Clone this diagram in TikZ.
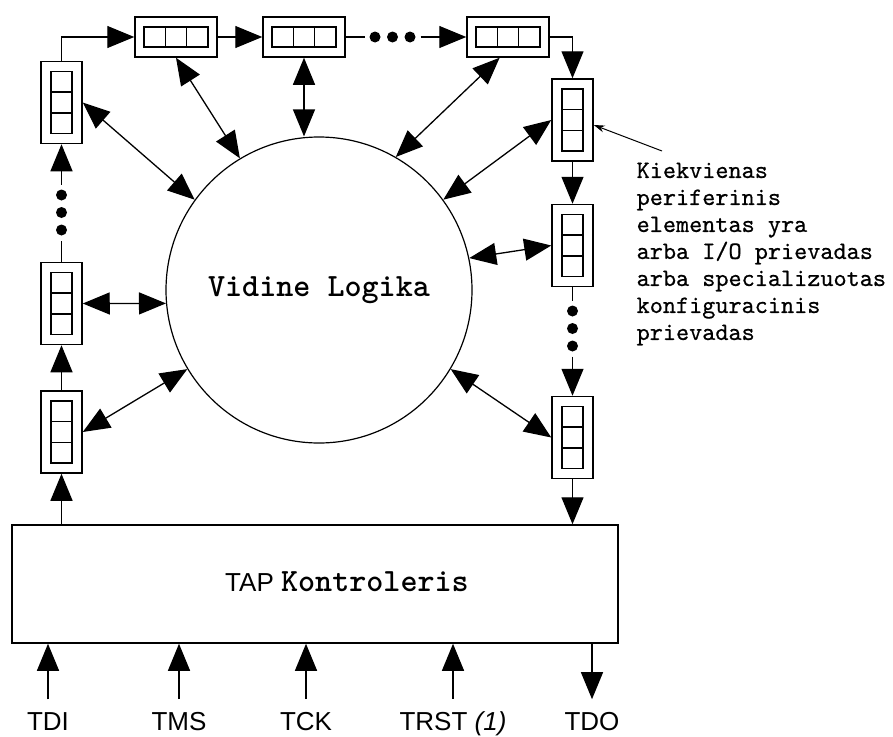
\documentclass[tikz,border=0pt]{standalone}
\usepackage{fontspec}
\setmainfont{Liberation Sans}
\newfontfamily\monobold{lmmonolt10-bold.otf}
\newfontfamily\mononote{lmmono10-regular.otf}[FakeBold=0.6]
\usetikzlibrary{arrows.meta}

\begin{document}
\begin{tikzpicture}[x=1pt,y=1pt,line width=1.3pt,
	onearrow/.style={-{Triangle[length=27pt,width=22pt]}},
	twoarrow/.style={{Triangle[length=27pt,width=22pt]}-{Triangle[length=27pt,width=22pt]}},
	hreg/.style={draw,rectangle,line width=1.5pt,minimum width=82pt,minimum height=40pt,inner sep=0pt},
	vreg/.style={hreg,minimum width=41pt,minimum height=82pt},
	hcell/.style={draw,rectangle,line width=1.5pt,minimum width=21.3pt,minimum height=20pt,inner sep=0pt},
	vcell/.style={hcell,minimum width=21pt,minimum height=20.7pt},
	bead/.style={circle,fill,inner sep=0pt,minimum size=11pt,outer sep=5pt},
	pinlabel/.style={font=\fontsize{26}{28}\selectfont,inner sep=0pt,anchor=base}]

	\useasboundingbox (0,0) rectangle (893,-736);

	\node[draw,circle,line width=1.2pt,minimum size=306pt,font=\monobold\fontsize{32.5}{34}\selectfont] (logic) at (319,-290) {Vidine Logika};

	\foreach \reg/\x in {t1/176,t2/304,t3/508} {
		\node[hreg] (\reg) at (\x,-37) {};
		\foreach \k in {-1,0,1}
			\node[hcell] at ([xshift=\k*21.3pt]\reg.center) {};
	}
	\foreach \reg/\x/\y in {l1/61.5/-102.5,l2/61.5/-303.5,l3/61.5/-432,r1/572.5/-120,r2/572.5/-245.5,r3/572.5/-437.5} {
		\node[vreg] (\reg) at (\x,\y) {};
		\foreach \k in {-1,0,1}
			\node[vcell] at ([yshift=\k*20.7pt]\reg.center) {};
	}

	\foreach \i/\x in {1/375,2/392.5,3/410} \node[bead] (td\i) at (\x,-37) {};
	\foreach \i/\y in {1/-195,2/-212.5,3/-230} \node[bead] (ld\i) at (61.5,\y) {};
	\foreach \i/\y in {1/-311,2/-328.5,3/-346} \node[bead] (rd\i) at (572.5,\y) {};

	\node[draw,rectangle,line width=1.5pt,minimum width=606pt,minimum height=118pt] (tap) at (315,-584) {};
	\node[font=\fontsize{26}{28}\selectfont] (tapname) at (347,-582) {TAP {\monobold\fontsize{32.5}{34}\selectfont Kontroleris}};

	\node[pinlabel] (tdi) at (48,-730) {TDI};
	\node[pinlabel] (tms) at (179,-730) {TMS};
	\node[pinlabel] (tck) at (306,-730) {TCK};
	\node[pinlabel] (trst) at (453,-730) {TRST \textit{(1)}};
	\node[pinlabel] (tdo) at (592,-730) {TDO};

	\draw[onearrow] (l1.north) |- (t1.west);
	\draw[onearrow] (t1) -- (t2);
	\draw (t2) -- (td1);
	\draw[onearrow] (td3) -- (t3);
	\draw[onearrow] (t3.east) -| (r1.north);
	\draw[onearrow] (r1) -- (r2);
	\draw (r2) -- (rd1);
	\draw[onearrow] (rd3) -- (r3);
	\draw[onearrow] (r3) -- (r3 |- tap.north);
	\draw[onearrow] (tap.north -| l3) -- (l3);
	\draw[onearrow] (l3) -- (l2);
	\draw (l2) -- (ld3);
	\draw[onearrow] (ld1) -- (l1);

	\draw[twoarrow] (l1.east) -- (logic.144);
	\draw[twoarrow] (t1.south) -- (logic.121);
	\draw[twoarrow] (t2.south) -- (t2.south |- logic.north);
	\draw[twoarrow] (t3.248) -- (logic.60);
	\draw[twoarrow] (r1.west) -- (logic.36);
	\draw[twoarrow] (r2.west) -- (logic.12);
	\draw[twoarrow] (l2.east) -- (logic.185);
	\draw[twoarrow] (l3.east) -- (logic.211);
	\draw[twoarrow] (r3.west) -- (logic.329);

	\foreach \p in {tdi,tms,tck,trst}
		\draw[onearrow] ([yshift=12pt]\p.north) -- (\p.north |- tap.south);
	\draw[onearrow] (tap.south -| tdo.north) -- ([yshift=12pt]tdo.north);

	\node[anchor=north west,align=left,inner sep=0pt,font=\mononote\fontsize{25}{27}\selectfont] (note) at (636,-162) {Kiekvienas\\periferinis\\elementas yra\\arba I/O prievadas\\arba specializuotas\\konfiguracinis\\prievadas};
	\coordinate (notetail) at (662,-151);
	\draw[-{Stealth[length=11pt,width=7pt]},line width=1pt] (notetail) -- ([yshift=-5pt]r1.east);

\end{tikzpicture}
\end{document}
